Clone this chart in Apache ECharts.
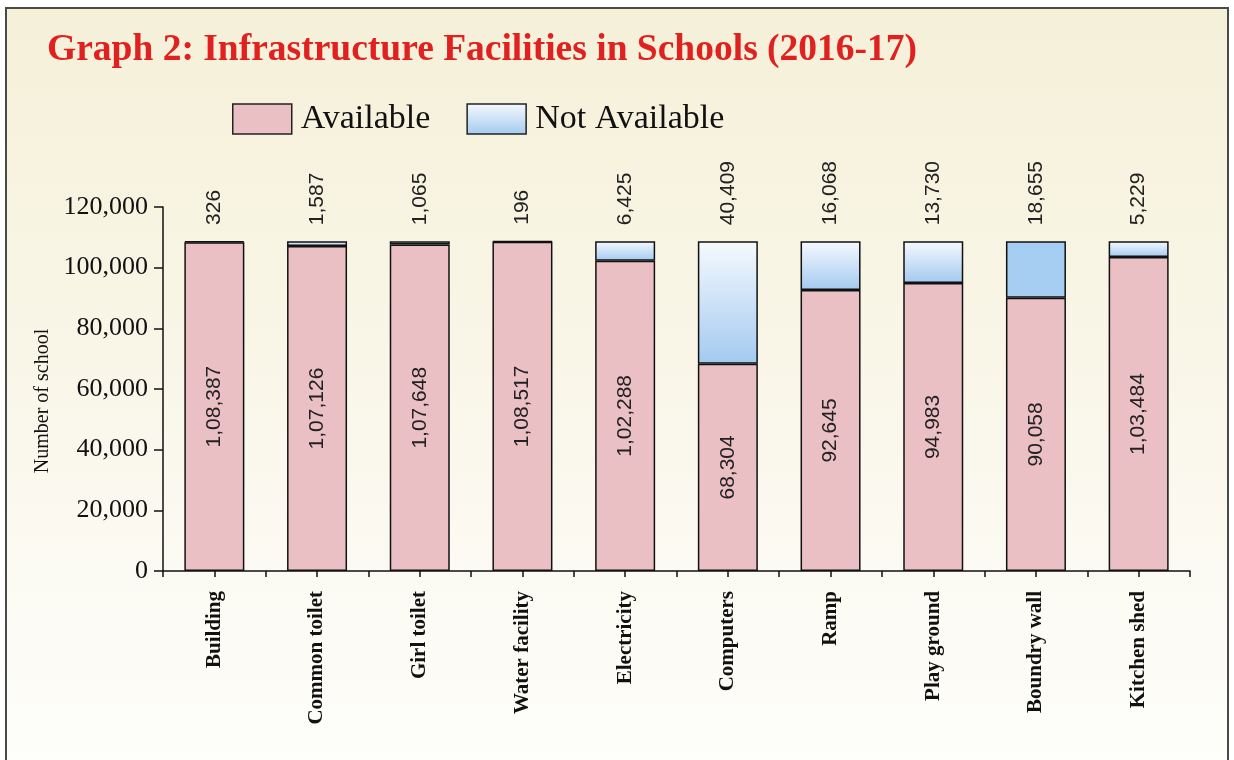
<!DOCTYPE html>
<html>
<head>
<meta charset="utf-8">
<script src="https://cdn.jsdelivr.net/npm/echarts@6/dist/echarts.min.js"></script>
<style>
  html, body { margin: 0; padding: 0; background: #fff; }
  #chart { width: 1234px; height: 760px; }
</style>
</head>
<body>
<div id="chart"></div>
<script>
// facilities, number of schools (2016-17)
var categories = ['Building', 'Common toilet', 'Girl toilet', 'Water facility', 'Electricity',
                  'Computers', 'Ramp', 'Play ground', 'Boundry wall', 'Kitchen shed'];
var available    = [108387, 107126, 107648, 108517, 102288, 68304, 92645, 94983, 90058, 103484];
var notAvailable = [326, 1587, 1065, 196, 6425, 40409, 16068, 13730, 18655, 5229];
var yTicks = [0, 20000, 40000, 60000, 80000, 100000, 120000];

// indian grouping: 1,08,387
function fmtIN(v) {
  var s = String(Math.round(v));
  if (s.length <= 3) return s;
  var last3 = s.slice(-3), rest = s.slice(0, -3);
  rest = rest.replace(/\B(?=(\d{2})+(?!\d))/g, ',');
  return rest + ',' + last3;
}
function fmtWest(v) {
  return String(v).replace(/\B(?=(\d{3})+(?!\d))/g, ',');
}

var blueGrad = new echarts.graphic.LinearGradient(0, 0, 0, 1, [
  { offset: 0, color: '#f6f9fe' },
  { offset: 1, color: '#a3caf0' }
]);

var naData = notAvailable.map(function (v, i) {
  if (categories[i] === 'Boundry wall') return { value: v, itemStyle: { color: '#a6cdf2' } };
  return v;
});

var myChart = echarts.init(document.getElementById('chart'));

var option = {
  backgroundColor: '#ffffff',
  animation: false,
  graphic: [{
    type: 'rect',
    z: -10,
    shape: { x: 6, y: 8, width: 1222, height: 770 },
    style: {
      fill: new echarts.graphic.LinearGradient(0, 0, 0, 1, [
        { offset: 0, color: '#f5f0d8' },
        { offset: 1, color: '#fefefc' }
      ]),
      stroke: '#4a4a4a',
      lineWidth: 2
    }
  }],
  title: {
    text: 'Graph 2: Infrastructure Facilities in Schools (2016-17)',
    left: 42, top: 26,
    textStyle: { fontFamily: 'Liberation Serif', fontWeight: 'bold', fontSize: 37.5, color: '#e0211f' }
  },
  legend: {
    left: 227, top: 97,
    icon: 'rect',
    itemWidth: 59, itemHeight: 30, itemGap: 36,
    textStyle: { fontFamily: 'Liberation Serif', fontSize: 34, color: '#111', padding: [0, 0, 0, 4] },
    data: [
      { name: 'Available', itemStyle: { color: '#ebc0c5', borderColor: '#222', borderWidth: 1.5 } },
      { name: 'Not Available', itemStyle: { color: blueGrad, borderColor: '#222', borderWidth: 1.5 } }
    ]
  },
  grid: { left: 163, right: 44, top: 207, bottom: 189 },
  xAxis: [{
    type: 'category',
    data: categories,
    axisLine: { lineStyle: { color: '#111', width: 1.5 } },
    axisTick: { show: true, length: 6, lineStyle: { color: '#111', width: 1.5 } },
    axisLabel: {
      rotate: 90, margin: 20, interval: 0,
      fontFamily: 'Liberation Serif', fontWeight: 'bold', fontSize: 21, color: '#111'
    }
  }, {
    type: 'category',
    data: categories,
    position: 'bottom',
    axisLine: { show: false },
    axisTick: { show: true, alignWithLabel: true, length: 6, lineStyle: { color: '#111', width: 1.5 } },
    axisLabel: { show: false }
  }],
  yAxis: {
    type: 'value',
    min: 0, max: 120000, interval: 20000,
    name: 'Number of school',
    nameLocation: 'middle',
    nameGap: 108,
    nameTextStyle: { fontFamily: 'Liberation Serif', fontSize: 20, color: '#111', padding: [0, 24, 0, 0] },
    axisLine: { show: true, lineStyle: { color: '#111', width: 1.5 } },
    axisTick: { show: true, length: 9, lineStyle: { color: '#111', width: 1.5 } },
    splitLine: { show: false },
    axisLabel: {
      margin: 15,
      fontFamily: 'Liberation Serif', fontSize: 26, color: '#111',
      formatter: function (v) { return yTicks.indexOf(v) >= 0 ? fmtWest(v) : ''; }
    }
  },
  series: [{
    name: 'Available',
    type: 'bar',
    stack: 'total',
    barWidth: 60,
    data: available,
    itemStyle: { color: '#ebc0c5', borderColor: '#111', borderWidth: 1.5 },
    label: {
      show: true, position: 'inside', rotate: 90,
      fontFamily: 'Liberation Sans', fontSize: 21, color: '#222',
      formatter: function (p) { return fmtIN(p.value); }
    }
  }, {
    name: 'Not Available',
    type: 'bar',
    stack: 'total',
    barWidth: 60,
    data: naData,
    itemStyle: { color: blueGrad, borderColor: '#111', borderWidth: 1.5 },
    label: {
      show: true, position: 'top', rotate: 90, distance: 16,
      align: 'left', verticalAlign: 'middle',
      fontFamily: 'Liberation Sans', fontSize: 21, color: '#222',
      formatter: function (p) { return fmtWest(p.value); }
    }
  }]
};

myChart.setOption(option);
</script>
</body>
</html>
